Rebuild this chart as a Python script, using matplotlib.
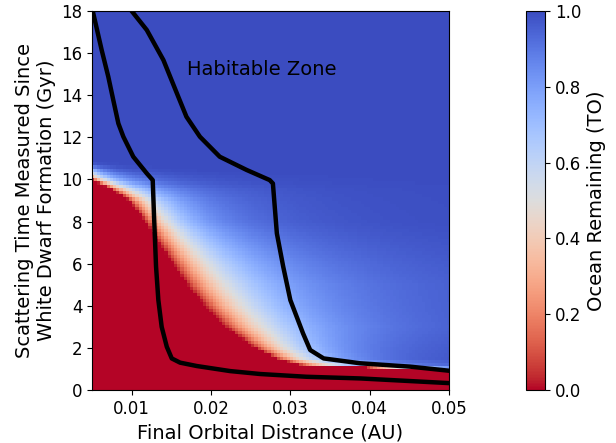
import numpy as np
import matplotlib
matplotlib.use("Agg")
from matplotlib import pyplot as plt

# rows of the map: time (Gyr), x where the ocean is fully gone (red edge)
# and x where half of it is left (white band)
row_t = [0.0, 0.9, 0.97, 1.05, 1.2, 1.5, 2.0, 3.0, 4.0, 5.0, 6.0, 7.0, 8.0, 9.0, 9.5, 9.97, 10.2, 10.5, 11.0, 18.0]
row_xdry = [0.060, 0.055, 0.050, 0.040, 0.031, 0.0282, 0.0255, 0.0218, 0.0192, 0.0170, 0.0152, 0.0134, 0.0117, 0.0097, 0.0076, 0.005, 0.004, 0.0035, 0.0001, 0.0001]
row_xhalf = [0.070, 0.062, 0.054, 0.044, 0.035, 0.0316, 0.0294, 0.0266, 0.024, 0.0218, 0.0195, 0.017, 0.0145, 0.0122, 0.0098, 0.0065, 0.0052, 0.0042, 0.00015, 0.00015]

# habitable zone edges (AU, Gyr)
inner_x = [0.00509, 0.00622, 0.00705, 0.00768, 0.00832, 0.00895, 0.0102, 0.0119, 0.01265, 0.01282, 0.01307, 0.01336, 0.01378, 0.01442, 0.01505, 0.0161, 0.0182, 0.0224, 0.0262, 0.0320, 0.0388, 0.0499]
inner_t = [18.0, 16.14, 14.88, 13.77, 12.66, 12.03, 11.08, 10.29, 9.97, 8.23, 5.86, 4.27, 3.0, 2.06, 1.5, 1.30, 1.14, 0.90, 0.76, 0.63, 0.55, 0.33]
outer_x = [0.0100, 0.0119, 0.0140, 0.0157, 0.0169, 0.0186, 0.0211, 0.0245, 0.0274, 0.0278, 0.0283, 0.0291, 0.0300, 0.0316, 0.0325, 0.0342, 0.0388, 0.0451, 0.0499]
outer_t = [18.0, 17.1, 15.67, 14.09, 12.98, 12.03, 11.08, 10.45, 9.97, 9.81, 7.44, 5.86, 4.27, 2.69, 1.9, 1.5, 1.27, 1.11, 0.92]

# grid
xs = np.linspace(0.005, 0.05, 112)
ts = np.linspace(0, 18, 120)
X, T = np.meshgrid(xs, ts)
xd = np.interp(T, row_t, row_xdry)
xh = np.interp(T, row_t, row_xhalf)
p = np.log(0.5) / np.log(xd / xh)
ratio = np.clip(xd / X, 0, 1)
ocean = np.where(X <= xd, 0.0, 1 - ratio ** p)
ocean = np.clip(ocean, 0, 1)

fig = plt.figure(figsize=(6.16, 4.43), dpi=100)
ax = fig.add_axes([0.1494, 0.1196, 0.5795, 0.8555])
cax = fig.add_axes([0.8539, 0.1196, 0.0308, 0.8555])

mesh = ax.pcolormesh(xs, ts, ocean, cmap="coolwarm_r", vmin=0, vmax=1, shading="auto")
ax.plot(inner_x, inner_t, color="black", lw=3.2, solid_joinstyle="round")
ax.plot(outer_x, outer_t, color="black", lw=3.2, solid_joinstyle="round")
ax.text(0.017, 15.2, "Habitable Zone", fontsize=14, va="center", ha="left")

ax.set_xlim(0.005, 0.05)
ax.set_ylim(0, 18)
ax.set_xticks([0.01, 0.02, 0.03, 0.04, 0.05])
ax.set_yticks(range(0, 19, 2))
ax.tick_params(labelsize=12)
ax.set_xlabel("Final Orbital Distrance (AU)", fontsize=14)
ax.set_ylabel("Scattering Time Measured Since\nWhite Dwarf Formation (Gyr)", fontsize=14)

cb = fig.colorbar(mesh, cax=cax)
cb.set_label("Ocean Remaining (TO)", fontsize=14)
cb.ax.tick_params(labelsize=12)

fig.savefig("out.png", dpi=100)
